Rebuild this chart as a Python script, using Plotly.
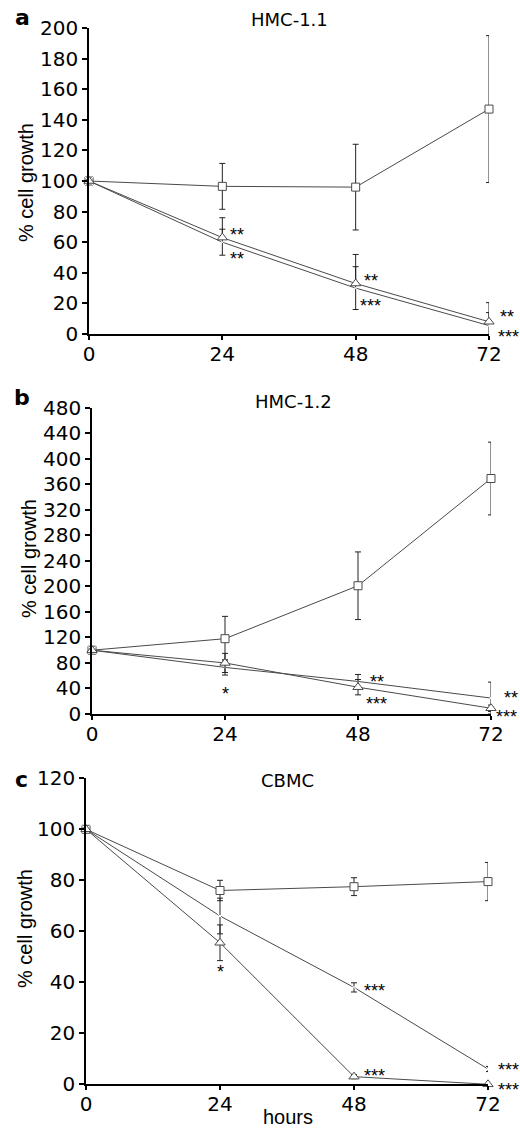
import plotly.graph_objects as go

hours = [0, 24, 48, 72]
x_ticks = [0, 24, 48, 72]

# Panel a: HMC-1.1
a_title = "HMC-1.1"
a_sq = [100, 96.5, 96, 147]
a_sq_err = [0, 15, 28, 48]
a_tri = [100, 63, 33, 8]
a_tri_err_up = [0, 13, 19, 12.5]
a_tri_err_dn = [0, 0, 0, 0]
a_x = [100, 60, 30, 5.5]
a_x_err = [0, 8.5, 14, 8.5]
a_yticks = list(range(0, 201, 20))

# Panel b: HMC-1.2
b_title = "HMC-1.2"
b_sq = [100, 118, 201, 369]
b_sq_err = [0, 35, 53, 57]
b_tri = [100, 80, 42, 9]
b_tri_err = [0, 15, 12, 5]
b_x = [100, 73, 51, 25]
b_x_err = [0, 12, 11, 25]
b_yticks = list(range(0, 481, 40))

# Panel c: CBMC
c_title = "CBMC"
c_sq = [100, 76, 77.5, 79.5]
c_sq_err = [0, 4, 3.5, 7.5]
c_x = [100, 66, 38, 6]
c_x_err = [0, 7, 1.8, 1]
c_tri = [100, 55.5, 3, 0]
c_tri_err = [0, 7, 0.8, 0]
c_yticks = list(range(0, 121, 20))

# significance stars: (hour, value, text)
a_stars = [(24, 67, "**"), (24, 51.6, "**"), (48, 37.5, "**"),
           (48, 21, "***"), (72, 13.5, "**"), (72, 0, "***")]
b_stars = [(24, 38, "*"), (48, 57, "**"), (48, 22, "***"),
           (72, 31, "**"), (72, 0, "***")]
c_stars = [(24, 45.7, "*"), (48, 38, "***"), (48, 4.8, "***"),
           (72, 1.7, "***"), (72, 1.7, "***")]
# placement styles for the stars: (xanchor, yanchor, xshift, yshift)
a_star_pos = [("left", "middle", 6, -4), ("left", "middle", 6, -4),
              ("left", "middle", 6, -4), ("left", "middle", 2, -4),
              ("left", "middle", 9, -4), ("left", "middle", 7, -3)]
b_star_pos = [("center", "middle", 0, -4), ("left", "middle", 10, -4),
              ("left", "middle", 6, -4), ("left", "middle", 11, -4),
              ("left", "middle", 3, -3)]
c_star_pos = [("center", "middle", 0, -4), ("left", "middle", 8, -4),
              ("left", "middle", 8, -4), ("left", "bottom", 8, -2),
              ("left", "top", 8, 2)]

FONT = "Liberation Sans, Arial, sans-serif"
WFONT = "DejaVu Sans, sans-serif"
LINE = "#4a4a4a"
EB = "#222222"

fig = go.Figure()

def add(xax, yax, y, up, dn, symbol, size):
    fig.add_trace(go.Scatter(
        x=hours, y=y, xaxis=xax, yaxis=yax, mode="lines+markers",
        line=dict(color=LINE, width=1),
        marker=dict(symbol=symbol, size=size, color="white",
                    line=dict(color=LINE, width=1)),
        error_y=dict(type="data", array=up, arrayminus=dn, symmetric=False,
                     color=EB, thickness=1, width=3),
        cliponaxis=False, showlegend=False))

add("x", "y", a_sq, a_sq_err, a_sq_err, "square", 8)
add("x", "y", a_x, a_x_err, a_x_err, "x-thin-open", 8)
add("x", "y", a_tri, a_tri_err_up, a_tri_err_dn, "triangle-up", 9)

add("x2", "y2", b_sq, b_sq_err, b_sq_err, "square", 8)
add("x2", "y2", b_x, b_x_err, b_x_err, "x-thin-open", 8)
add("x2", "y2", b_tri, b_tri_err, b_tri_err, "triangle-up", 9)

add("x3", "y3", c_sq, c_sq_err, c_sq_err, "square", 8)
add("x3", "y3", c_x, c_x_err, c_x_err, "x-thin-open", 8)
add("x3", "y3", c_tri, c_tri_err, c_tri_err, "triangle-up", 9)

W, H = 520, 1130
def xd(l, r):
    return [l / W, r / W]
def yd(top, bot):
    return [1 - bot / H, 1 - top / H]

axis_common = dict(showgrid=False, zeroline=False, showline=True,
                   linecolor="black", linewidth=1.5, ticks="outside",
                   ticklen=5, tickcolor="black", tickwidth=1.5,
                   automargin=False,
                   tickfont=dict(family=WFONT, size=20, color="black"))

panels = [
    ("", xd(89, 489), yd(28, 334), [0, 200], a_yticks, "y", "x"),
    ("2", xd(92, 491), yd(407.7, 714), [0, 480], b_yticks, "y2", "x2"),
    ("3", xd(86, 488), yd(778.3, 1084.3), [0, 120], c_yticks, "y3", "x3"),
]
layout = {}
for suf, xdom, ydom, yr, yt, yname, xname in panels:
    layout["xaxis" + suf] = dict(axis_common, domain=xdom, range=[0, 72],
                                 tickvals=x_ticks, anchor=yname, ticklen=4,
                                 ticklabelstandoff=-3)
    layout["yaxis" + suf] = dict(axis_common, domain=ydom, range=yr,
                                 tickvals=yt, anchor=xname)

annotations = []
for (xr, yr_, stars, pos) in [("x", "y", a_stars, a_star_pos),
                              ("x2", "y2", b_stars, b_star_pos),
                              ("x3", "y3", c_stars, c_star_pos)]:
    for (hx, v, t), (xa, ya, xs, ys) in zip(stars, pos):
        annotations.append(dict(x=hx, y=v, xref=xr, yref=yr_, text=t, showarrow=False,
                                xanchor=xa, yanchor=ya, xshift=xs, yshift=ys,
                                font=dict(family=FONT, size=18, color="black")))

# panel titles
for t, x, y in [(a_title, 289, 19.5), (b_title, 293, 401.5), (c_title, 287.5, 780)]:
    annotations.append(dict(x=x / W, y=1 - y / H, xref="paper", yref="paper", text=t,
                            showarrow=False, xanchor="center", yanchor="middle",
                            font=dict(family=WFONT, size=18, color="black")))
# panel letters
for t, x, y in [("a", 22, 18), ("b", 22, 398), ("c", 21.5, 779)]:
    annotations.append(dict(x=x / W, y=1 - y / H, xref="paper", yref="paper",
                            text="<b>" + t + "</b>", showarrow=False,
                            xanchor="center", yanchor="middle",
                            font=dict(family=WFONT, size=22, color="black")))
# y axis titles
for x, y in [(26, 183), (29, 559), (25, 929)]:
    annotations.append(dict(x=x / W, y=1 - y / H, xref="paper", yref="paper",
                            text="% cell growth", textangle=-90, showarrow=False,
                            xanchor="center", yanchor="middle",
                            font=dict(family=FONT, size=20, color="black")))
# x axis title
annotations.append(dict(x=288 / W, y=1 - 1117 / H, xref="paper", yref="paper",
                        text="hours", showarrow=False, xanchor="center", yanchor="middle",
                        font=dict(family=FONT, size=20, color="black")))

fig.update_layout(width=W, height=H, margin=dict(l=0, r=0, t=0, b=0),
                  paper_bgcolor="white", plot_bgcolor="white",
                  annotations=annotations, **layout)

fig.write_html("out.html", config={"displayModeBar": False},
               post_script="document.body.style.margin='0px';document.body.style.overflow='hidden';")
